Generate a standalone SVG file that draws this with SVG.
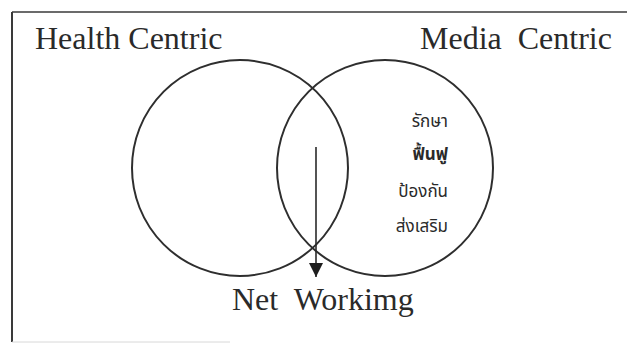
<svg xmlns="http://www.w3.org/2000/svg" width="627" height="344" viewBox="0 0 627 344">
<style>
.lbl{font-family:"Liberation Serif","Times New Roman",serif;font-size:32px;fill:#2a2a2a}
.th{font-family:"Noto Sans Thai","Noto Sans","DejaVu Sans",sans-serif;font-size:17px;fill:#2a2a2a;text-anchor:end}
.circ{fill:none;stroke:#2e2e2e;stroke-width:2}
</style>
<defs>
<marker id="ah" viewBox="0 0 14 14" refX="14" refY="7" markerWidth="14" markerHeight="14" markerUnits="userSpaceOnUse" orient="auto">
<path d="M0,0 L14,7 L0,14 Z" fill="#1e1e1e"/>
</marker>
</defs>
<rect width="627" height="344" fill="#ffffff"/>
<g id="frame">
<line x1="12" y1="12" x2="627" y2="12" stroke="#3a3a3a" stroke-width="1.5"/>
<line x1="12" y1="12" x2="12" y2="342" stroke="#3a3a3a" stroke-width="2"/>
<line x1="12" y1="342" x2="230" y2="342" stroke="#d8d8d8" stroke-width="1"/>
</g>
<g id="health">
<circle class="circ" cx="240" cy="168" r="108"/>
<text class="lbl" x="35" y="49">Health Centric</text>
</g>
<g id="media">
<circle class="circ" cx="385" cy="168" r="108"/>
<text class="lbl" x="420" y="49" xml:space="preserve">Media  Centric</text>
<text class="th" x="448" y="127">รักษา</text>
<text class="th" x="448" y="160" font-weight="bold">ฟื้นฟู</text>
<text class="th" x="448" y="197">ป้องกัน</text>
<text class="th" x="448" y="232">ส่งเสริม</text>
</g>
<g id="network">
<text class="lbl" x="232" y="310" xml:space="preserve">Net  Workimg</text>
</g>
<g id="connectors">
<line x1="316" y1="147" x2="316" y2="277" stroke="#2a2a2a" stroke-width="1.6" marker-end="url(#ah)"/>
</g>
</svg>
